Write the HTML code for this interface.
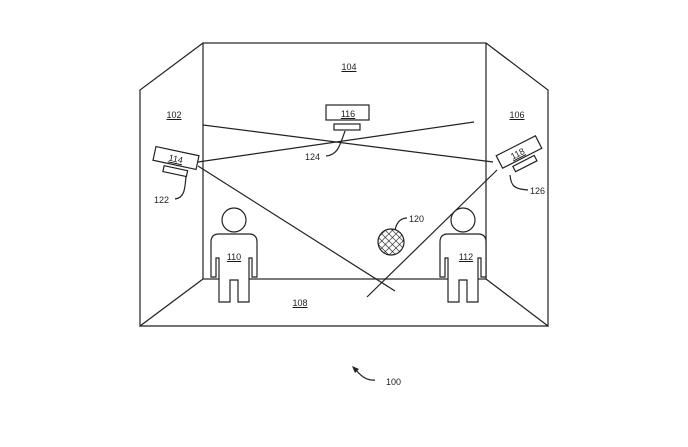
<!DOCTYPE html>
<html><head><style>html,body{margin:0;padding:0;background:#fff}svg{display:block}text{font-family:"Liberation Sans",sans-serif;font-size:9px;fill:#222}</style></head><body>
<svg width="688" height="447" viewBox="0 0 688 447" xmlns="http://www.w3.org/2000/svg">
<defs><pattern id="h" width="5" height="5" patternUnits="userSpaceOnUse" patternTransform="rotate(45)"><rect width="5" height="5" fill="#fff"/><line x1="0" y1="0" x2="0" y2="5" stroke="#222" stroke-width="1.3"/><line x1="0" y1="0" x2="5" y2="0" stroke="#222" stroke-width="1.3"/></pattern></defs>
<g fill="none" stroke="#222" stroke-width="1.2">
<rect x="203" y="43" width="283" height="236"/>
<polyline points="203,43 140,90 140,326 203,279"/>
<polyline points="486,43 548,90 548,326 486,279"/>
<line x1="140" y1="326" x2="548" y2="326"/>
<line x1="203" y1="125" x2="493" y2="162"/>
<line x1="198" y1="162" x2="474" y2="122"/>
<line x1="198" y1="166" x2="395" y2="291"/>
<line x1="497" y1="170" x2="367" y2="297"/>
<rect x="326" y="105" width="43" height="15" fill="#fff"/>
<rect x="334" y="124" width="26" height="6" fill="#fff"/>
<path d="M345,131 C340,145 338,155 326,156"/>
<g transform="translate(176,158) rotate(12)"><rect x="-22" y="-7" width="44" height="14" fill="#fff"/><rect x="-10" y="10" width="24" height="6" fill="#fff"/></g>
<path d="M186,176 C185,190 184,198 175,199"/>
<g transform="translate(519,152) rotate(-27)"><rect x="-22" y="-7" width="44" height="14" fill="#fff"/><rect x="-12" y="10" width="24" height="6" fill="#fff"/></g>
<path d="M510,175 C511,186 514,189 528,190"/>
<path d="M395,230 C397,220 403,218 407,218"/>
<circle cx="391" cy="242" r="13" fill="url(#h)"/>
<g id="p"><circle cx="234" cy="220" r="12" fill="#fff"/>
<path d="M219,234 H249 Q257,234 257,242 V277 H252 V258 H249 V302 H238 V280 H230 V302 H219 V258 H216 V277 H211 V242 Q211,234 219,234 Z" fill="#fff"/></g>
<use href="#p" x="229"/>
<path d="M375,380 C366,381 360,375 354,368"/>
</g>
<path d="M352,366 L359,369 L355,373 Z" fill="#222"/>
<g text-decoration="underline" text-anchor="middle">
<text x="349" y="70">104</text><text x="174" y="118">102</text><text x="517" y="118">106</text>
<text x="300" y="306">108</text><text x="234" y="260">110</text><text x="466" y="260">112</text>
<text x="348" y="117">116</text>
<text x="176" y="162" transform="rotate(12 176 158)">114</text>
<text x="517" y="156" transform="rotate(-27 519 152)">118</text>
</g>
<text x="305" y="160">124</text><text x="154" y="203">122</text><text x="530" y="194">126</text>
<text x="409" y="222">120</text><text x="386" y="385">100</text>
</svg></body></html>
